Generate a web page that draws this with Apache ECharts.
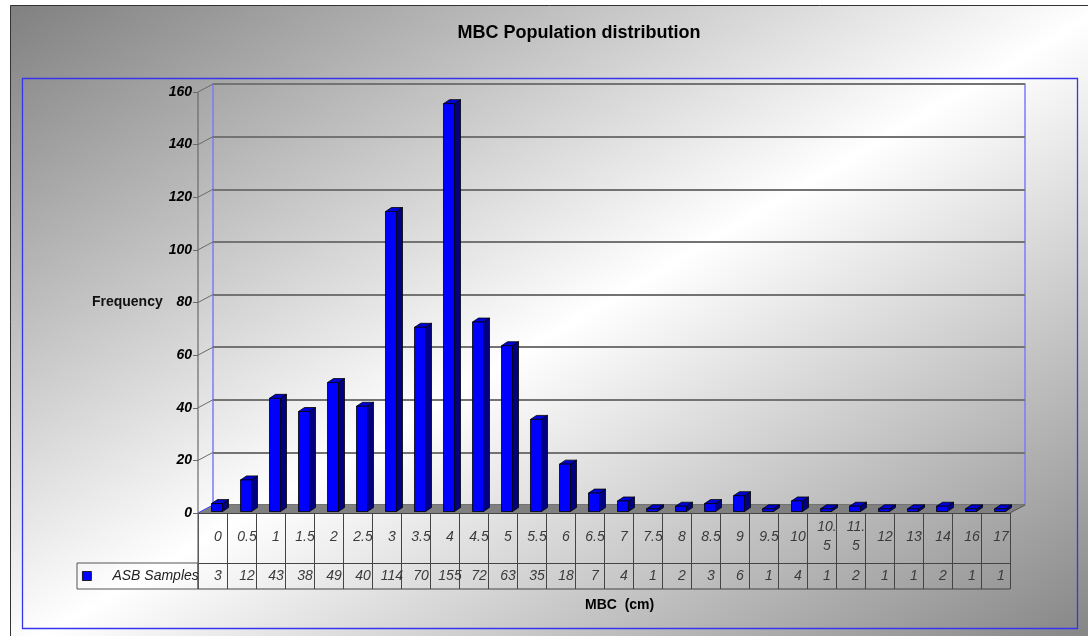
<!DOCTYPE html>
<html>
<head>
<meta charset="utf-8">
<script src="https://cdn.jsdelivr.net/npm/echarts@6/dist/echarts.min.js"></script>
<style>
  html, body { margin: 0; padding: 0; background: #ffffff; }
  #chart { width: 1088px; height: 636px; }
</style>
</head>
<body>
<div id="chart"></div>
<script>
// MBC class marks (cm) and observed frequencies
const categories = ['0', '0.5', '1', '1.5', '2', '2.5', '3', '3.5', '4', '4.5', '5', '5.5', '6', '6.5',
  '7', '7.5', '8', '8.5', '9', '9.5', '10', '10.5', '11.5', '12', '13', '14', '16', '17'];
const frequency = [3, 12, 43, 38, 49, 40, 114, 70, 155, 72, 63, 35, 18, 7,
  4, 1, 2, 3, 6, 1, 4, 1, 2, 1, 1, 2, 1, 1];
const yTicks = [0, 20, 40, 60, 80, 100, 120, 140, 160];
const seriesName = 'ASB Samples';

// Layout of the pseudo-3D plot: front plane, back wall offset, data table rows
const FONT = '"Liberation Sans", Arial, sans-serif';
const FRONT = { left: 198, top: 92, width: 812, height: 421 };
const DEPTH = { dx: 15, dy: 8 };
const HEADER_H = 50;
const ROW_H = 26;
const LEGEND_W = 121;

const chart = echarts.init(document.getElementById('chart'));

// Chart-area background: diagonal grey → white → grey
const bg = { x: 10, y: 5, w: 1100, h: 650 };
const diag = Math.sqrt(bg.w * bg.w + bg.h * bg.h);
const dirX = bg.h / diag, dirY = bg.w / diag;
const halfLen = bg.w * bg.h / diag;
const cx = bg.x + bg.w / 2, cy = bg.y + bg.h / 2;
const bgFill = new echarts.graphic.LinearGradient(
  cx - dirX * halfLen, cy - dirY * halfLen, cx + dirX * halfLen, cy + dirY * halfLen,
  [{ offset: 0, color: '#808080' }, { offset: 0.5, color: '#ffffff' }, { offset: 1, color: '#808080' }],
  true
);

// Floor, depth ticks, front axis line and the table frame
function renderFrame(params, api) {
  const cs = params.coordSys;
  const x0 = cs.x, x1 = cs.x + cs.width, y0 = cs.y + cs.height;
  const children = [];
  children.push({
    type: 'polygon',
    shape: { points: [[x0, y0], [x1, y0], [x1 + DEPTH.dx, y0 - DEPTH.dy], [x0 + DEPTH.dx, y0 - DEPTH.dy]] },
    style: { fill: '#808080' }
  });
  children.push({
    type: 'line',
    shape: { x1: x1, y1: y0, x2: x1 + DEPTH.dx, y2: y0 - DEPTH.dy },
    style: { stroke: '#555555', lineWidth: 1 }
  });
  yTicks.forEach(function (t) {
    const y = api.coord([0, t])[1];
    children.push({
      type: 'line',
      shape: { x1: x0, y1: y, x2: x0 + DEPTH.dx, y2: y - DEPTH.dy },
      style: { stroke: t === 0 ? '#3a3aff' : '#6a6a6a', lineWidth: 1 }
    });
  });
  // front vertical axis running down through the data table
  children.push({
    type: 'line',
    shape: { x1: x0, y1: cs.y, x2: x0, y2: y0 + HEADER_H + ROW_H },
    style: { stroke: '#6a6a6a', lineWidth: 1.2 }
  });
  // legend cell of the data table
  children.push({
    type: 'rect',
    shape: { x: x0 - LEGEND_W, y: y0 + HEADER_H, width: LEGEND_W, height: ROW_H },
    style: { fill: 'none', stroke: '#555555', lineWidth: 1 }
  });
  // bottom line of the data table
  children.push({
    type: 'line',
    shape: { x1: x0, y1: y0 + HEADER_H + ROW_H, x2: x1, y2: y0 + HEADER_H + ROW_H },
    style: { stroke: '#444444', lineWidth: 1 }
  });
  return { type: 'group', children: children };
}

// 3D column: front face, top face and right side face
function renderBar(params, api) {
  const i = api.value(0), v = api.value(1);
  const base = api.coord([i, 0]);
  const top = api.coord([i, v]);
  const band = api.size([1, 0])[0];
  const w = band * 0.38;
  const L = base[0] - band * 0.035;
  const lift = 1.5, bx = 6, by = 4;
  const yTop = top[1] - lift, yBot = base[1] - lift;
  const edge = { stroke: '#000000', lineWidth: 0.8 };
  return {
    type: 'group',
    children: [
      { type: 'polygon',
        shape: { points: [[L + w, yTop], [L + w + bx, yTop - by], [L + w + bx, yBot - by], [L + w, yBot]] },
        style: Object.assign({ fill: '#000080' }, edge) },
      { type: 'polygon',
        shape: { points: [[L, yTop], [L + bx, yTop - by], [L + w + bx, yTop - by], [L + w, yTop]] },
        style: Object.assign({ fill: '#0000d8' }, edge) },
      { type: 'rect',
        shape: { x: L, y: yTop, width: w, height: yBot - yTop },
        style: Object.assign({ fill: '#0000ff' }, edge) }
    ]
  };
}

const option = {
  animation: false,
  grid: [
    { left: FRONT.left, top: FRONT.top, width: FRONT.width, height: FRONT.height },
    { left: FRONT.left + DEPTH.dx, top: FRONT.top - DEPTH.dy, width: FRONT.width, height: FRONT.height,
      show: true, borderColor: '#7a7aff', borderWidth: 1.5, backgroundColor: 'transparent' }
  ],
  xAxis: [
    { // category row of the data table
      type: 'category', gridIndex: 0, data: categories, position: 'bottom',
      axisLine: { show: true, lineStyle: { color: '#444444', width: 1 } },
      axisTick: { show: true, interval: 0, length: HEADER_H, lineStyle: { color: '#444444' } },
      axisLabel: {
        interval: 0, margin: HEADER_H / 2 - 1, verticalAlign: 'middle',
        fontFamily: FONT, fontSize: 14, fontStyle: 'italic', color: '#3a3a3a',
        lineHeight: 19, padding: [0, 0, 0, 11],
        formatter: function (val) { return val.length > 3 ? val.slice(0, 3) + '\n' + val.slice(3) : val; }
      }
    },
    { // value row of the data table
      type: 'category', gridIndex: 0, data: categories, position: 'bottom', offset: HEADER_H,
      axisLine: { show: true, lineStyle: { color: '#444444', width: 1 } },
      axisTick: { show: true, interval: 0, length: ROW_H, lineStyle: { color: '#444444' } },
      axisLabel: {
        interval: 0, margin: ROW_H / 2, verticalAlign: 'middle',
        fontFamily: FONT, fontSize: 14, fontStyle: 'italic', color: '#3a3a3a',
        padding: [0, 0, 0, 11],
        formatter: function (val, idx) { return String(frequency[idx]); }
      }
    },
    { // back wall
      type: 'category', gridIndex: 1, data: categories,
      axisLine: { show: false }, axisTick: { show: false }, axisLabel: { show: false }
    }
  ],
  yAxis: [
    {
      type: 'value', gridIndex: 0, min: 0, max: 160, interval: 20,
      name: 'Frequency', nameLocation: 'middle', nameRotate: 0, nameGap: 33,
      nameTextStyle: { fontFamily: FONT, fontSize: 14, fontWeight: 'bold', color: '#111111', align: 'right' },
      axisLine: { show: false },
      axisTick: { show: true, length: 5, lineStyle: { color: '#6a6a6a' } },
      axisLabel: { margin: 6, fontFamily: FONT, fontSize: 14, fontWeight: 'bold', fontStyle: 'italic', color: '#000000' },
      splitLine: { show: false }
    },
    {
      type: 'value', gridIndex: 1, min: 0, max: 160, interval: 20,
      axisLine: { show: false }, axisTick: { show: false }, axisLabel: { show: false },
      splitLine: { show: true, lineStyle: { color: '#737373', width: 2 } }
    }
  ],
  legend: {
    data: [seriesName], left: 82, top: 569, padding: 0,
    icon: 'rect', itemWidth: 9, itemHeight: 9,
    itemStyle: { borderColor: '#000000', borderWidth: 0.8 },
    textStyle: { fontFamily: FONT, fontSize: 14, fontStyle: 'italic', color: '#222222', padding: [0, 0, 0, 16] }
  },
  graphic: [
    { type: 'rect', z: -10, silent: true,
      shape: { x: bg.x + 0.5, y: bg.y + 0.5, width: bg.w, height: bg.h },
      style: { fill: bgFill, stroke: '#333333', lineWidth: 1 } },
    { type: 'rect', z: -9, silent: true,
      shape: { x: 22.5, y: 78.5, width: 1055, height: 550 },
      style: { fill: 'none', stroke: '#3535f0', lineWidth: 1.3 } },
    { type: 'text', z: 5, x: 579, y: 33,
      style: { text: 'MBC Population distribution', font: 'bold 18px ' + FONT, fill: '#000000',
        align: 'center', verticalAlign: 'middle', textAlign: 'center', textVerticalAlign: 'middle' } },
    { type: 'text', z: 5, x: 585, y: 605,
      style: { text: 'MBC  (cm)', font: 'bold 14px ' + FONT, fill: '#000000',
        align: 'left', verticalAlign: 'middle', textAlign: 'left', textVerticalAlign: 'middle' } }
  ],
  series: [
    {
      type: 'custom', xAxisIndex: 0, yAxisIndex: 0, z: 1, silent: true,
      renderItem: renderFrame, data: [[0, 0]]
    },
    {
      name: seriesName, type: 'custom', xAxisIndex: 0, yAxisIndex: 0, z: 3,
      itemStyle: { color: '#0000ff' },
      encode: { x: 0, y: 1 },
      renderItem: renderBar,
      data: frequency.map(function (v, i) { return [i, v]; })
    }
  ]
};

chart.setOption(option);
</script>
</body>
</html>
